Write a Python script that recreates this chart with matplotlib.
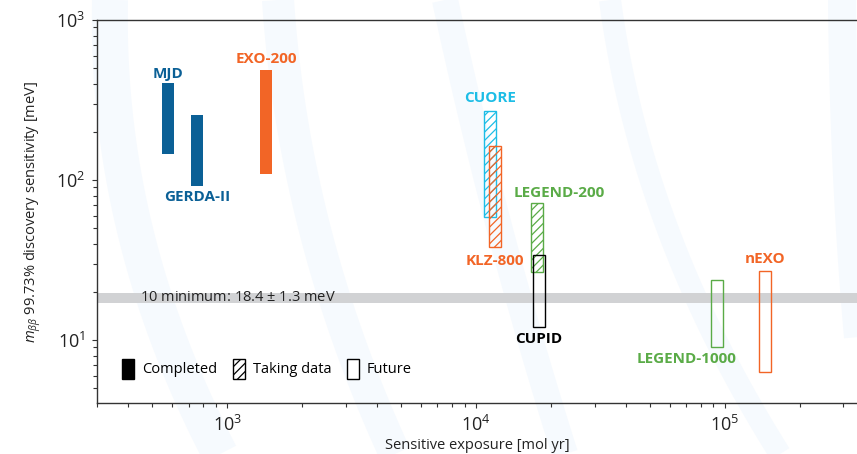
import matplotlib
matplotlib.use("Agg")
import matplotlib.pyplot as plt
from matplotlib.lines import Line2D
from matplotlib.patches import Patch
import numpy as np

names = ["MJD", "GERDA-II", "EXO-200", "CUORE", "KLZ-800",
         "LEGEND-200", "CUPID", "LEGEND-1000", "nEXO"]
exposure = [580, 758, 1435, 11360, 11960, 17580, 17950, 92800, 145000]  # mol yr
sens_low = [145, 92, 109, 58.5, 38.3, 26.7, 12.1, 9.0, 6.3]  # meV
sens_high = [404, 255, 487, 271, 164, 71.5, 34.1, 23.8, 27.0]  # meV
status = ["completed", "completed", "completed", "taking", "taking",
          "taking", "future", "future", "future"]

io_min = 18.4
io_err = 1.3

# style
BLUE = "#0b6096"
ORANGE = "#f26526"
CYAN = "#1dbde6"
GREEN = "#5aab47"
colors = [BLUE, BLUE, ORANGE, CYAN, ORANGE, GREEN, "black", GREEN, ORANGE]
# label anchor ("top"/"bottom" of bar) and offset in points
label_pos = [("top", 0, 6.5), ("bottom", 0, -8.1), ("top", 0, 7.9),
             ("top", 0, 9.1), ("bottom", 0, -10.0), ("top", 16, 7.4),
             ("bottom", 0, -8.4), ("bottom", -21.7, -8.1), ("top", 0, 8.9)]
half_width = 0.0235  # bar half width in decades

plt.rcParams.update({
    "font.family": ["Open Sans", "DejaVu Sans"],
    "mathtext.fontset": "custom",
    "mathtext.rm": "Open Sans",
    "mathtext.it": "Open Sans:italic",
    "mathtext.bf": "Open Sans:bold",
    "hatch.linewidth": 0.9,
})

fig = plt.figure(figsize=(8.57, 4.54), dpi=100)

# faint decorative background bands
bands = [
    ([110, 135, 220], [0, 230, 454], 36),
    ([278, 315, 395], [0, 230, 454], 32),
    ([445, 500, 565], [0, 230, 454], 26),
    ([610, 668, 780], [0, 230, 454], 22),
    ([842, 850, 870], [0, 230, 454], 28),
]
for bx, by, lw in bands:
    t = np.linspace(0, 1, 40)
    px = (1 - t) ** 2 * bx[0] + 2 * t * (1 - t) * (2 * bx[1] - 0.5 * (bx[0] + bx[2])) + t ** 2 * bx[2]
    py = (1 - t) ** 2 * by[0] + 2 * t * (1 - t) * (2 * by[1] - 0.5 * (by[0] + by[2])) + t ** 2 * by[2]
    fig.add_artist(Line2D(px / 857, 1 - py / 454, color="#f6fafe", lw=lw * 0.72,
                          solid_capstyle="butt", zorder=0))

ax = fig.add_axes([97 / 857, 51 / 454, 760 / 857, 383 / 454])
ax.set_facecolor("none")
ax.set_xscale("log")
ax.set_yscale("log")
ax.set_xlim(300, 3.4e5)
ax.set_ylim(4.05, 1000)

ax.axhspan(io_min - io_err, io_min + io_err, color="#d1d2d4", lw=0, zorder=1)
ax.text(448, io_min, f"10 minimum: {io_min} $\\pm$ {io_err} meV",
        fontsize=10.5, va="center", ha="left", color="#222222", zorder=2)

for i, name in enumerate(names):
    left = exposure[i] * 10 ** (-half_width)
    right = exposure[i] * 10 ** half_width
    c = colors[i]
    if status[i] == "completed":
        kw = dict(facecolor=c, edgecolor=c, lw=0)
    elif status[i] == "taking":
        kw = dict(facecolor="none", edgecolor=c, hatch="////", lw=1.0)
    else:
        kw = dict(facecolor="none", edgecolor=c, lw=1.0)
    ax.bar(left, sens_high[i] - sens_low[i], bottom=sens_low[i], width=right - left,
           align="edge", zorder=3, **kw)
    anchor, dx, dy = label_pos[i]
    yref = sens_high[i] if anchor == "top" else sens_low[i]
    ax.annotate(name, xy=(exposure[i], yref), xytext=(dx, dy), textcoords="offset points",
                ha="center", va="center", fontsize=11, fontweight="bold", color=c, zorder=4)

for side in ["left", "bottom", "top"]:
    ax.spines[side].set_color("#333333")
    ax.spines[side].set_linewidth(1.0)
ax.spines["right"].set_visible(False)

ax.tick_params(which="both", direction="out", length=3.5, width=0.8, color="#333333",
               labelsize=13, labelcolor="#222222", pad=5)
ax.tick_params(which="minor", length=3, labelleft=False, labelbottom=False)

ax.set_xlabel("Sensitive exposure [mol yr]", fontsize=10.5, color="#222222", labelpad=2)
ax.set_ylabel(r"$m_{\beta\beta}$ 99.73% discovery sensitivity [meV]", fontsize=10.5,
              color="#222222", labelpad=9)

handles = [
    Patch(facecolor="black", edgecolor="black", label="Completed"),
    Patch(facecolor="white", edgecolor="black", hatch="////", label="Taking data"),
    Patch(facecolor="white", edgecolor="black", label="Future"),
]
ax.legend(handles=handles, ncol=3, loc="center left", bbox_to_anchor=(0.033, 0.0896),
          frameon=False, fontsize=10.5, handlelength=0.8, handleheight=1.7,
          handletextpad=0.55, columnspacing=1.1, borderpad=0, borderaxespad=0)

fig.savefig("out.png", dpi=100)
